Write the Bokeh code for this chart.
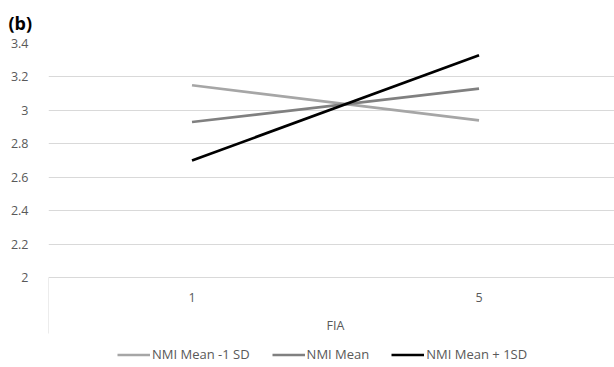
from bokeh.plotting import figure
from bokeh.models import Range1d, FixedTicker, Legend, LegendItem
from bokeh.core.properties import value
from bokeh.embed import file_html
from bokeh.resources import INLINE

categories = ["1", "5"]
series_names = ["NMI Mean -1 SD", "NMI Mean", "NMI Mean + 1SD"]
low_sd = [3.15, 2.94]
mean_vals = [2.93, 3.13]
high_sd = [2.70, 3.33]
y_ticks = [2, 2.2, 2.4, 2.6, 2.8, 3, 3.2, 3.4]
y_tick_labels = ["2", "2.2", "2.4", "2.6", "2.8", "3", "3.2", "3.4"]
x_title = "FIA"
colors = ["#a6a6a6", "#808080", "#000000"]

FONT = "Open Sans"
TXT = "#595959"
GRID = "#d9d9d9"
FS = "12.5px"

# value axis: 2 .. 3.4 occupies 234 px; frame continues below to hold the category axis + legend
px_per_unit = 234 / 1.4
frame_h = 367 - 43
y_lo = 3.4 - frame_h / px_per_unit

xs = [i + 0.5 for i in range(len(categories))]

p = figure(width=614, height=367, output_backend="svg", toolbar_location=None,
           x_range=Range1d(0, 1.972), y_range=Range1d(y_lo, 3.4),
           min_border_left=48, min_border_right=0, min_border_top=43, min_border_bottom=0,
           title="(b)")
p.outline_line_color = None
p.background_fill_color = "white"
p.border_fill_color = "white"

p.title.text_font = FONT
p.title.text_font_size = "18px"
p.title.text_font_style = "bold"
p.title.text_color = "#000000"
p.title.align = "left"
p.title.offset = -40
p.title.text_line_height = 0.6
p.title.standoff = 17

# y axis
p.yaxis.ticker = FixedTicker(ticks=y_ticks)
p.yaxis.major_label_overrides = {t: l for t, l in zip(y_ticks, y_tick_labels)}
p.yaxis.axis_line_color = None
p.yaxis.major_tick_line_color = None
p.yaxis.minor_tick_line_color = None
p.yaxis.major_label_standoff = 14
p.yaxis.major_label_text_font = FONT
p.yaxis.major_label_text_font_size = FS
p.yaxis.major_label_text_color = TXT
p.ygrid.ticker = FixedTicker(ticks=y_ticks)
p.ygrid.grid_line_color = GRID
p.ygrid.grid_line_width = 1

p.xaxis.visible = False
p.xgrid.grid_line_color = None

# category axis (drawn below the value 2 baseline)
cat_y = 2 - 20 / px_per_unit
title_y = 2 - 48 / px_per_unit
div_y = 2 - 56 / px_per_unit
p.segment(x0=[0], y0=[2], x1=[0], y1=[div_y], line_color=GRID, line_width=1)
p.text(x=xs, y=[cat_y] * len(xs), text=categories, text_font=value(FONT),
       text_font_size=FS, text_color=TXT, text_align="center", text_baseline="middle")
p.text(x=[sum(xs) / len(xs)], y=[title_y], text=[x_title], text_font=value(FONT),
       text_font_size=FS, text_color=TXT, text_align="center", text_baseline="middle")

items = []
for name, vals, c in zip(series_names, [low_sd, mean_vals, high_sd], colors):
    r = p.line(xs, vals, line_color=c, line_width=2.6)
    items.append(LegendItem(label=name, renderers=[r]))

legend = Legend(items=items, orientation="horizontal", location=(69, 4),
                glyph_width=33, glyph_height=15, label_standoff=2, spacing=22,
                padding=0, margin=0, border_line_color=None, background_fill_alpha=0,
                label_text_font=FONT, label_text_font_size="13px", label_text_color=TXT)
p.add_layout(legend, "center")

open("out.html", "w").write(file_html(p, INLINE))
